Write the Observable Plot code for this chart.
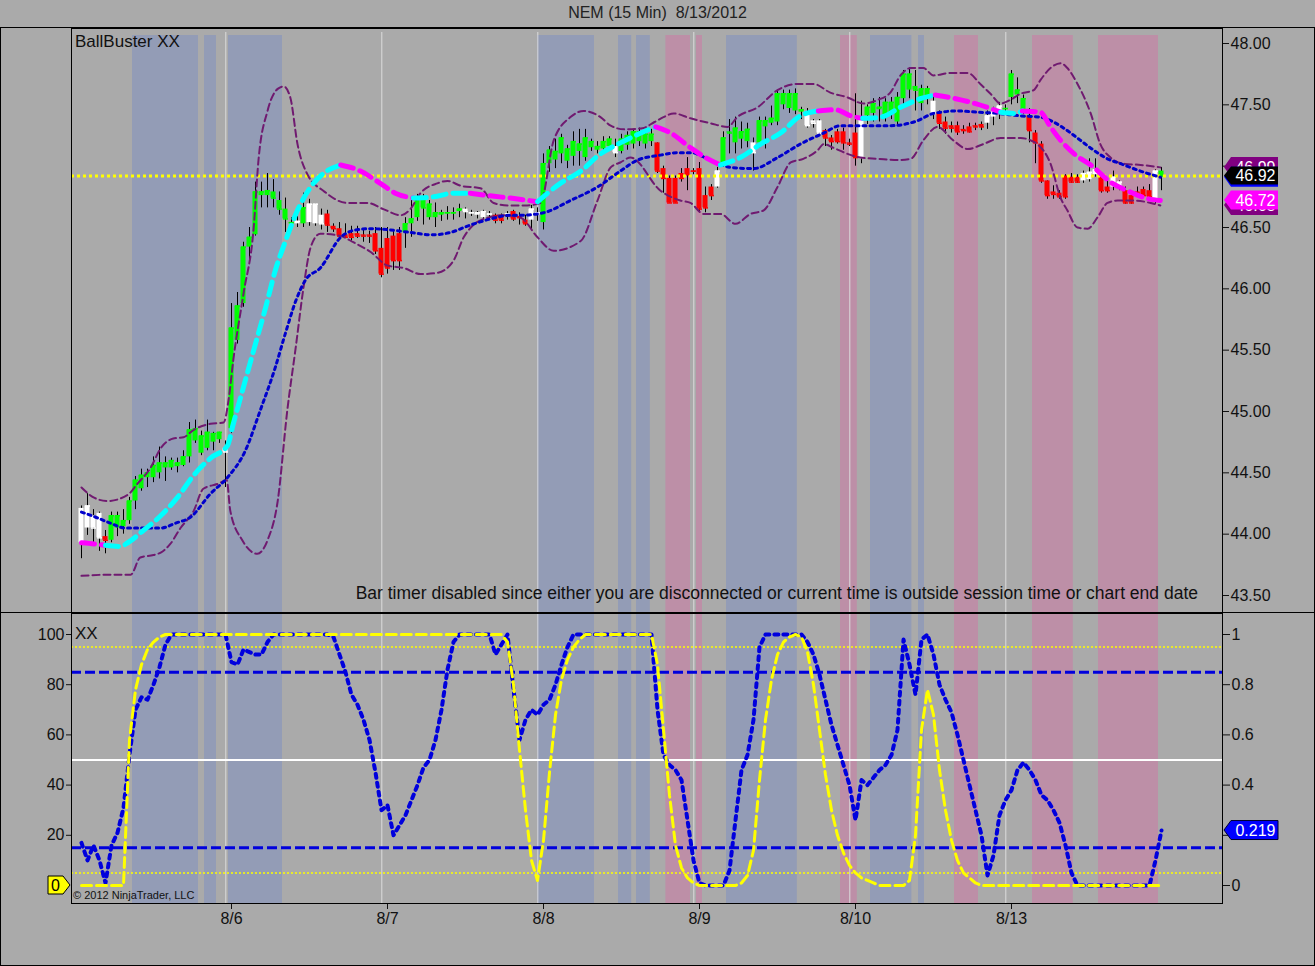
<!DOCTYPE html>
<html>
<head>
<meta charset="utf-8">
<script src="https://cdn.jsdelivr.net/npm/d3@7"></script>
<script src="https://cdn.jsdelivr.net/npm/@observablehq/plot@0.6"></script>
<style>
html,body{margin:0;padding:0;background:#aaaaaa;}
#wrap{position:relative;width:1315px;height:966px;background:#aaaaaa;overflow:hidden;font-family:"Liberation Sans",Arial,Helvetica,sans-serif;color:#111;}
#title{position:absolute;left:0;top:4px;width:1315px;text-align:center;font-size:16px;white-space:pre;color:#222;}
#price{position:absolute;left:0;top:28px;}
#ind{position:absolute;left:0;top:613px;}
#box{position:absolute;left:0;top:27px;width:1315px;height:939px;border:1px solid #000;box-sizing:border-box;pointer-events:none;}
#sep{position:absolute;left:0;top:612px;width:1315px;height:1px;background:#000;}
.lbl{position:absolute;white-space:nowrap;color:#111;}
svg{overflow:visible;}
</style>
</head>
<body>
<div id="wrap">
  <div id="title">NEM (15 Min)  8/13/2012</div>
  <div id="price"></div>
  <div id="ind"></div>
  <div id="sep"></div>
  <div id="box"></div>
  <div class="lbl" style="left:75px;top:32px;font-size:17px;">BallBuster XX</div>
  <div class="lbl" style="right:117px;top:583px;font-size:17.5px;">Bar timer disabled since either you are disconnected or current time is outside session time or chart end date</div>
  <div class="lbl" style="left:75px;top:624px;font-size:17px;">XX</div>
  <div class="lbl" style="left:73px;top:889px;font-size:11px;">© 2012 NinjaTrader, LLC</div>
</div>
<script>
// ---------- axis / session data ----------
const dayLabels = ["8/6", "8/7", "8/8", "8/9", "8/10", "8/13"];
const dayStart = [25, 51, 77, 103, 129, 155];          // bar index of first bar of each session
const sessionBreaks = [24.05, 50.05, 76.05, 102.05, 128.05, 154.05];
const priceTicks = [43.5, 44, 44.5, 45, 45.5, 46, 46.5, 47, 47.5, 48];
const indLeftTicks = [20, 40, 60, 80, 100];
const indRightTicks = [0, 20, 40, 60, 80, 100];
const currentPrice = 46.92;

// shaded regions in bar units
const blueBands = [[8.5,19.5],[20.5,22.5],[24.5,33.5],[76,85.5],[89.5,91.7],[92.5,94.8],[107.5,119.3],[131.5,138.4],[139.5,140.5]];
const pinkBands = [[97.4,101.5],[102.5,103.5],[126.5,129.3],[145.5,149.5],[158.5,165.3],[169.5,179.5]];

// ---------- candles (15-min bars, 8/3 .. 8/13) ----------
const candleOpen = [
44.21,44.05,44.15,44.17,43.98,43.95,44.05,44.06,44.11,44.27,44.37,44.46,44.46,44.50,44.54,44.54,44.55,44.56,44.63,44.76,44.66,44.70,44.75,44.77,44.70,
44.86,45.58,45.88,46.34,46.44,46.76,46.76,46.79,46.72,46.65,46.53,46.53,46.53,46.54,46.53,46.60,46.61,46.51,46.49,46.44,46.45,46.45,46.44,46.44,46.45,46.33,
46.41,46.43,46.45,46.46,46.53,46.58,46.72,46.58,46.58,46.60,46.61,46.61,46.63,46.65,46.61,46.60,46.58,46.60,46.60,46.60,46.60,46.63,46.59,46.56,46.56,46.60,
46.54,47.02,47.05,47.10,47.04,47.08,47.12,47.07,47.15,47.13,47.14,47.16,47.16,47.12,47.17,47.18,47.20,47.18,47.20,47.19,46.98,46.90,46.90,46.94,46.98,46.95,
46.98,46.76,46.83,46.83,47.02,47.28,47.19,47.22,47.20,47.19,47.19,47.32,47.35,47.36,47.50,47.47,47.45,47.44,47.44,47.37,47.37,47.29,47.23,47.28,47.28,47.19,
47.27,47.06,47.41,47.43,47.46,47.41,47.43,47.36,47.55,47.62,47.65,47.51,47.55,47.53,47.43,47.36,47.33,47.33,47.30,47.32,47.33,47.34,47.35,47.40,47.44,47.46,
47.56,47.58,47.45,47.41,47.27,47.18,46.88,46.79,46.78,46.92,46.91,46.91,46.88,46.89,46.93,46.92,46.83,46.83,46.82,46.80,46.76,46.79,46.81,46.80,46.72,46.96];
const candleHigh = [
44.23,44.33,44.20,44.18,44.03,44.18,44.18,44.20,44.30,44.47,44.53,44.53,44.63,44.71,44.63,44.62,44.62,44.68,44.91,44.93,44.84,44.93,44.83,44.83,44.76,
45.88,45.97,46.38,46.50,46.87,46.87,46.94,46.89,46.79,46.74,46.58,46.59,46.78,46.73,46.69,46.65,46.64,46.53,46.54,46.53,46.51,46.51,46.48,46.47,46.50,46.50,
46.50,46.48,46.50,46.58,46.73,46.77,46.77,46.72,46.70,46.64,46.67,46.66,46.69,46.66,46.64,46.63,46.64,46.63,46.61,46.61,46.63,46.64,46.62,46.60,46.68,46.66,
47.10,47.16,47.22,47.26,47.17,47.28,47.30,47.30,47.22,47.20,47.24,47.24,47.22,47.26,47.28,47.30,47.31,47.30,47.30,47.19,47.00,46.92,46.92,46.98,47.07,46.98,
47.03,46.83,46.85,46.99,47.28,47.38,47.40,47.36,47.35,47.23,47.40,47.40,47.49,47.62,47.62,47.62,47.63,47.48,47.47,47.38,47.38,47.30,47.25,47.30,47.31,47.22,
47.59,47.53,47.50,47.55,47.56,47.55,47.56,47.60,47.78,47.80,47.78,47.66,47.65,47.58,47.45,47.40,47.36,47.36,47.33,47.35,47.35,47.36,47.45,47.48,47.52,47.50,
47.78,47.72,47.58,47.47,47.29,47.20,46.88,46.84,46.80,46.93,46.94,46.93,46.96,47.06,47.06,46.94,46.88,46.96,46.88,46.83,46.80,46.83,46.83,46.85,46.97,46.99];
const candleLow = [
43.80,43.99,43.93,43.86,43.84,43.93,43.98,44.00,44.08,44.20,44.35,44.38,44.42,44.45,44.43,44.52,44.50,44.55,44.58,44.74,44.64,44.68,44.68,44.74,44.38,
44.82,45.55,45.85,46.20,46.43,46.66,46.66,46.66,46.60,46.46,46.47,46.50,46.50,46.51,46.51,46.48,46.46,46.46,46.43,46.41,46.39,46.41,46.38,46.37,46.28,46.09,
46.12,46.15,46.15,46.33,46.42,46.55,46.52,46.56,46.50,46.55,46.56,46.56,46.58,46.57,46.59,46.57,46.56,46.56,46.53,46.53,46.56,46.55,46.52,46.51,46.48,46.55,
46.48,46.95,46.98,47.02,46.98,47.00,47.00,47.04,47.12,47.10,47.10,47.12,47.07,47.10,47.13,47.14,47.16,47.14,47.16,46.94,46.78,46.70,46.70,46.87,46.80,46.93,
46.63,46.62,46.72,46.82,46.99,47.10,47.10,47.14,47.15,46.96,47.15,47.14,47.33,47.33,47.46,47.43,47.42,47.38,47.31,47.31,47.26,47.16,47.13,47.18,47.13,47.16,
47.00,47.02,47.34,47.36,47.36,47.36,47.38,47.33,47.50,47.55,47.45,47.45,47.50,47.38,47.30,47.26,47.27,47.25,47.26,47.27,47.29,47.29,47.30,47.33,47.38,47.42,
47.50,47.51,47.42,47.19,47.02,46.86,46.73,46.73,46.73,46.73,46.86,46.86,46.86,46.87,46.91,46.78,46.78,46.80,46.80,46.69,46.69,46.77,46.75,46.74,46.69,46.80];
const candleClose = [
43.93,44.23,44.05,43.97,43.95,44.15,44.15,44.11,44.27,44.44,44.48,44.50,44.56,44.58,44.58,44.60,44.58,44.63,44.85,44.86,44.80,44.83,44.82,44.83,44.67,
45.68,45.86,46.34,46.42,46.79,46.79,46.80,46.74,46.65,46.57,46.54,46.55,46.66,46.69,46.69,46.53,46.52,46.49,46.43,46.42,46.42,46.43,46.43,46.43,46.31,46.12,
46.17,46.23,46.23,46.53,46.57,46.74,46.66,46.69,46.62,46.62,46.62,46.62,46.65,46.63,46.62,46.62,46.63,46.61,46.56,46.56,46.61,46.57,46.58,46.53,46.65,46.62,
47.02,47.13,47.12,47.23,47.14,47.20,47.18,47.23,47.20,47.16,47.20,47.22,47.11,47.22,47.25,47.28,47.28,47.26,47.26,46.96,46.90,46.70,46.70,46.90,46.93,46.96,
46.65,46.66,46.76,46.96,47.23,47.27,47.31,47.28,47.30,47.11,47.37,47.37,47.39,47.59,47.59,47.59,47.59,47.46,47.33,47.35,47.27,47.23,47.20,47.20,47.19,47.18,
47.07,47.40,47.48,47.51,47.48,47.52,47.52,47.56,47.75,47.75,47.62,47.63,47.63,47.43,47.35,47.31,47.31,47.28,47.29,47.28,47.32,47.32,47.41,47.44,47.49,47.47,
47.75,47.62,47.55,47.29,47.19,46.88,46.76,46.77,46.75,46.75,46.87,46.87,46.94,46.95,46.97,46.80,46.80,46.91,46.87,46.70,46.70,46.78,46.76,46.75,46.96,46.92];
// candle colour state per bar: G = green, R = red, W = white
const candleState = [
"WWWWRGGGGGGGGGGGGGGGGGGGW",
"GGGGGGGGGGGWGWWWRRRRRRRRRR",
"RRRGGGGGGGGGGWWWWWRRWRRRWW",
"GGGGGGGGGGGGWGGGGGGRRRRRRR",
"RRRWGGGGGWGGGGGGGGWWWRRRRR",
"RWGGGGGGGGGGGWRRRRRRRRWWWG",
"GGGRRRRRRRRRWWWRRWWRRRRRWG"].join("");

// ---------- overlays (sampled at bar positions) ----------
const maIdx = [0,2.3,4,6.5,7.7,10.3,13.2,16,18.7,21.5,24.3,25.3,27,28.7,30.7,32.3,34,36,38.2,40.3,43.2,46.5,49.8,52.3,55.3,58.7,62,64.8,67.8,71.5,76,79.8,83.2,86.5,89.8,93.2,95.7,98.2,101.5,104,106.5,109.8,113.2,116.5,119.8,122.8,125.7,128.2,130.2,133.2,136.5,139.8,142.3,145.7,149,153.2,155.7,156.8,159.8,161.5,163.2,165.7,168.2,171.5,174.8,177.3,179.8];
const maVal = [43.93,43.92,43.91,43.90,43.93,44.03,44.15,44.30,44.48,44.62,44.72,44.90,45.20,45.50,45.85,46.15,46.39,46.64,46.83,46.94,47.01,46.96,46.86,46.78,46.74,46.75,46.78,46.78,46.76,46.74,46.71,46.86,46.96,47.10,47.19,47.27,47.32,47.27,47.15,47.07,47.01,47.07,47.18,47.27,47.41,47.45,47.46,47.41,47.39,47.40,47.48,47.55,47.58,47.55,47.51,47.44,47.43,47.45,47.44,47.32,47.21,47.09,47.01,46.87,46.79,46.74,46.72];
const maUp = [0,0,1,1,1,1,1,1,1,1,1,1,1,1,1,1,1,1,1,1,0,0,0,0,1,1,1,0,0,0,1,1,1,1,1,1,0,0,0,0,1,1,1,1,1,0,0,0,1,1,1,1,0,0,0,1,1,0,0,0,0,0,0,0,0,0,0];

const blueIdx = [0,2.3,4.8,7.3,9.8,13.2,15.7,18.2,21.5,24.3,27.3,29.8,32.3,34,35.7,37.3,39.8,43.2,45.7,48.2,51.5,54.8,58.2,61.5,64.8,68.2,71.5,73.2,77,81.5,86,89.8,92.7,96.5,99.3,101.5,104.8,108.2,112,116,119.8,123.7,126.5,130.3,134.8,139.3,142,146,149.3,152.7,156.5,159.8,162,164.3,166.5,168.7,171,173.2,176.5,179.8];
const blueVal = [44.18,44.14,44.09,44.05,44.05,44.05,44.09,44.14,44.33,44.46,44.68,45.01,45.36,45.64,45.90,46.07,46.17,46.42,46.48,46.49,46.48,46.46,46.44,46.46,46.52,46.57,46.60,46.60,46.62,46.72,46.83,46.96,47.05,47.09,47.11,47.11,47.05,46.99,46.98,47.07,47.18,47.27,47.33,47.33,47.33,47.37,47.43,47.45,47.44,47.43,47.41,47.40,47.36,47.29,47.21,47.13,47.06,47.02,46.96,46.91];

const upperIdx = [0,2,4.3,7.7,9.3,11.5,13.2,15.3,17,18.7,21.5,23.7,24.5,25.3,27,28.7,29.5,31,32.7,33.7,34.8,36,37.8,40.3,44.3,47.7,50.3,53.2,54.8,56.5,59.3,61,63.2,66.5,68.7,71,74.3,76.5,78.7,81.5,83.7,86.5,88.2,90.5,93.5,95.5,97,98.7,101.5,104.8,107.7,109.3,112.7,116,119.3,122,124.8,127.7,130.3,132.7,134.8,136.5,138.2,140.3,142,144.8,147.7,149.8,151.5,153.2,154.8,156.5,158.7,159.8,161.5,163.2,164.3,166,168.2,169.8,171.5,173.7,176.5,179.8];
const upperVal = [44.38,44.30,44.27,44.32,44.41,44.54,44.70,44.78,44.79,44.85,44.90,44.91,45.09,45.42,45.96,46.50,47.05,47.45,47.63,47.65,47.56,47.18,46.92,46.80,46.70,46.70,46.65,46.60,46.65,46.78,46.86,46.88,46.84,46.82,46.70,46.68,46.68,46.70,47.21,47.40,47.45,47.40,47.33,47.30,47.31,47.36,47.40,47.43,47.39,47.35,47.32,47.40,47.48,47.62,47.67,47.67,47.60,47.56,47.51,47.54,47.60,47.74,47.80,47.80,47.74,47.76,47.76,47.67,47.59,47.51,47.54,47.59,47.62,47.70,47.80,47.84,47.80,47.67,47.43,47.18,47.07,47.02,47.01,46.99];

const lowerIdx = [0,4.8,8.2,9.8,12,13.2,14.8,16.5,18.7,20.3,22.7,24.2,24.8,26.8,29.3,31,32.7,34.3,35.7,37,38.2,39.8,43.2,45.3,48.2,51,53.7,56.5,59.3,62,63.7,65.3,67.7,70.3,73.2,76,78.7,83.2,86,88.2,89.8,91.5,96.5,99.8,101.5,103.7,106.5,109,111.5,113.7,116,118.2,120.3,122.7,123.7,125.3,127.7,129.8,132.7,136,138.2,140.3,142.7,145.3,147.7,150.3,153.2,156.5,158.2,159.3,161.5,163.2,164.3,166,167.7,169.3,171,172.7,175.3,178.2,179.8];
const lowerVal = [43.66,43.67,43.67,43.81,43.83,43.85,43.92,44.05,44.19,44.37,44.41,44.44,44.19,43.95,43.84,43.95,44.27,45.01,45.52,46.01,46.34,46.45,46.43,46.38,46.30,46.19,46.17,46.12,46.13,46.23,46.42,46.52,46.58,46.60,46.58,46.42,46.31,46.39,46.72,46.99,47.03,47.07,46.80,46.72,46.70,46.61,46.61,46.53,46.61,46.64,46.83,47.03,47.06,47.13,47.18,47.15,47.10,47.07,47.06,47.05,47.06,47.21,47.32,47.21,47.14,47.18,47.23,47.23,47.21,47.18,47.02,46.74,46.64,46.50,46.49,46.58,46.70,46.72,46.72,46.70,46.68];

// ---------- indicator panel (per bar, 0..100) ----------
const oscBlue = [
17,10,16,10,1,16,21,31,52,70,75,74,80,87,96,
100,100,100,100,100,100,100,100,100,100,
89,88,94,93,92,92,97,
100,100,100,100,100,100,100,100,100,100,
99,92,85,76,72,66,58,45,30,32,20,24,28,34,40,47,50,58,70,86,97,
100,100,100,100,100,100,
92,96,100,78,58,66,70,68,72,74,80,88,95,
100,100,100,100,100,100,100,100,100,100,100,100,100,100,
70,52,48,46,42,26,10,1,
0,0,0,0,
6,26,46,52,66,95,
100,100,100,100,100,100,100,
97,92,84,74,64,56,48,40,26,42,40,43,46,48,52,62,98,88,76,98,100,92,80,74,69,60,50,40,30,20,4,12,28,34,38,46,49,46,42,36,34,30,25,16,5,
0,0,0,0,0,0,0,0,0,0,0,0,0,
10,21.9];
const oscYellow = [
0,0,0,0,0,0,0,0,
58,78,88,94,97,99,
100,100,100,100,100,100,100,100,100,100,100,100,100,100,100,100,100,100,100,100,100,100,100,100,100,100,100,100,100,100,100,100,100,100,100,100,100,100,100,100,100,100,100,100,100,100,100,100,100,100,100,100,100,100,100,100,100,
97,80,54,30,10,2,18,45,68,82,90,95,98,
100,100,100,100,100,100,100,100,100,100,100,100,
88,62,36,16,7,3,1,
0,0,0,0,0,0,0,
1,4,14,42,66,82,92,97,99,100,99,93,80,62,44,30,20,13,8,5,3,2,1,
0,0,0,0,0,
2,20,62,78,68,46,30,18,10,5,3,1,
0,0,0,0,0,0,0,0,0,0,0,0,0,0,0,0,0,0,0,0,0,0,0,0,0,0,0,0,0,0,0];
const indLevels = {yellow: [95, 5], blue: [85, 15], mid: [50]};

// ---------- build ----------
const FONT = '"Liberation Sans", Arial, Helvetica, sans-serif';
const stateColor = {G: "#00ff00", R: "#ff0000", W: "#ffffff"};
const xDomain = [-10 / 6, 1141 / 6];
const candles = candleOpen.map((o, i) => ({i, o, h: candleHigh[i], l: candleLow[i], c: candleClose[i], col: stateColor[candleState[i]]}));
const pts = (idx, val) => idx.map((x, k) => ({x, v: val[k]}));

// MA split into rising (cyan) / falling (magenta) pieces
const maPieces = [];
{
  let cur = null, g = 0;
  for (let k = 0; k < maIdx.length - 1; k++) {
    if (!cur || cur.up !== maUp[k]) { cur = {up: maUp[k], g: g++, pts: [{x: maIdx[k], v: maVal[k]}]}; maPieces.push(cur); }
    cur.pts.push({x: maIdx[k + 1], v: maVal[k + 1]});
  }
}
const maData = maPieces.flatMap(p => p.pts.map(d => ({...d, g: p.g, col: p.up ? "#00ffff" : "#ff00ff"})));

function flagMark(flags, side) {
  return (index, scales, values, dims) => {
    const g = d3.create("svg:g");
    const xr = dims.width - dims.marginRight, xl = dims.marginLeft;
    for (const f of flags) {
      const y = scales.y(f.value), h = f.half;
      let d, tx;
      if (side === "right") {
        const a = xr + 2, b = xr + 9, c = xr + 56;
        d = `M${a},${y}L${b},${y - h}L${c},${y - h}L${c},${y + h}L${b},${y + h}Z`;
        tx = (b + c) / 2 + 1;
      } else {
        const a = xl - 1, b = xl - 8, c = xl - 23;
        d = `M${a},${y}L${b},${y - h}L${c},${y - h}L${c},${y + h}L${b},${y + h}Z`;
        tx = (b + c) / 2;
      }
      g.append("path").attr("d", d).attr("fill", f.fill).attr("stroke", f.stroke || "none").attr("stroke-width", 1);
      if (f.text) {
        g.append("text").attr("x", tx).attr("y", y).attr("dy", "0.36em").attr("text-anchor", "middle")
          .attr("fill", f.color).attr("font-size", 16).attr("font-family", FONT).text(f.text);
      }
    }
    return g.node();
  };
}

const priceFlags = [
  {value: upperVal[upperVal.length - 1], fill: "#800080", color: "#fff", text: upperVal[upperVal.length - 1].toFixed(2), half: 10},
  {value: lowerVal[lowerVal.length - 1], fill: "#800080", color: "#fff", text: lowerVal[lowerVal.length - 1].toFixed(2), half: 10},
  {value: blueVal[blueVal.length - 1], fill: "#0000ff", half: 10},
  {value: maVal[maVal.length - 1], fill: "#ff00ff", color: "#fff", text: maVal[maVal.length - 1].toFixed(2), half: 9.5},
  {value: currentPrice, fill: "#000000", color: "#fff", text: currentPrice.toFixed(2), half: 9}
];

const common = {
  width: 1315, marginLeft: 71, marginRight: 93,
  style: {background: "transparent", fontFamily: FONT, fontSize: "16px", color: "#111", overflow: "visible"},
  color: {type: "identity"}
};

const price = Plot.plot({
  ...common,
  height: 585, marginTop: 0, marginBottom: 0,
  x: {domain: xDomain, axis: null},
  y: {domain: [43.5, 48], range: [567, 15]},
  marks: [
    Plot.rect(blueBands, {x1: d => d[0], x2: d => d[1], fill: "#939cb6", insetTop: 7}),
    Plot.rect(pinkBands, {x1: d => d[0], x2: d => d[1], fill: "#bd8fa7", insetTop: 7}),
    Plot.ruleX(sessionBreaks, {x: d => d, stroke: "#dcdcdc", strokeWidth: 1, insetTop: 4}),
    Plot.ruleX(candles, {x: "i", y1: "l", y2: "h", stroke: "#000", strokeWidth: 1}),
    Plot.rect(candles, {x1: d => d.i - 0.42, x2: d => d.i + 0.42, y1: "o", y2: "c", fill: "col"}),
    Plot.link(candles, {x1: d => d.i - 0.42, x2: d => d.i + 0.42, y1: "c", y2: "c", stroke: "col", strokeWidth: 1.5}),
    Plot.ruleY([currentPrice], {stroke: "#ffff00", strokeWidth: 3, strokeDasharray: "3,3"}),
    Plot.line(pts(upperIdx, upperVal), {x: "x", y: "v", curve: "monotone-x", stroke: "#701a70", strokeWidth: 2, strokeDasharray: "7,4"}),
    Plot.line(pts(lowerIdx, lowerVal), {x: "x", y: "v", curve: "monotone-x", stroke: "#701a70", strokeWidth: 2, strokeDasharray: "7,4"}),
    Plot.line(pts(blueIdx, blueVal), {x: "x", y: "v", curve: "monotone-x", stroke: "#0000cc", strokeWidth: 3, strokeDasharray: "3,4"}),
    Plot.line(maData, {x: "x", y: "v", z: "g", stroke: "col", curve: "monotone-x", strokeWidth: 5, strokeDasharray: "13,7"}),
    Plot.axisY({anchor: "right", ticks: priceTicks, tickFormat: d => d.toFixed(2), tickSize: 6, tickPadding: 2, label: null, fontSize: 16}),
    Plot.frame({stroke: "#000"}),
    flagMark(priceFlags, "right")
  ]
});
document.getElementById("price").appendChild(price);

const blueSeries = oscBlue.map((v, i) => ({i, v}));
const yellowSeries = oscYellow.map((v, i) => ({i, v}));
const lastBlue = oscBlue[oscBlue.length - 1], lastYellow = oscYellow[oscYellow.length - 1];

const ind = Plot.plot({
  ...common,
  height: 353, marginTop: 0, marginBottom: 63,
  x: {domain: xDomain},
  y: {domain: [0, 100], range: [272, 21]},
  marks: [
    Plot.rect(blueBands, {x1: d => d[0], x2: d => d[1], fill: "#939cb6"}),
    Plot.rect(pinkBands, {x1: d => d[0], x2: d => d[1], fill: "#bd8fa7"}),
    Plot.ruleX(sessionBreaks, {x: d => d, stroke: "#dcdcdc", strokeWidth: 1}),
    Plot.ruleY(indLevels.yellow, {stroke: "#ffff00", strokeWidth: 1.5, strokeDasharray: "2,2"}),
    Plot.ruleY(indLevels.blue, {stroke: "#0000dd", strokeWidth: 3, strokeDasharray: "10,4"}),
    Plot.ruleY(indLevels.mid, {stroke: "#ffffff", strokeWidth: 2}),
    Plot.line(blueSeries, {x: "i", y: "v", stroke: "#0000dd", strokeWidth: 4, strokeDasharray: "4,5"}),
    Plot.line(yellowSeries, {x: "i", y: "v", stroke: "#ffff00", strokeWidth: 3, strokeDasharray: "10,5"}),
    Plot.axisY({anchor: "left", ticks: indLeftTicks, tickSize: 5, tickPadding: 2, label: null, fontSize: 16}),
    Plot.axisY({anchor: "right", ticks: indRightTicks, tickFormat: d => String(d / 100), tickSize: 7, tickPadding: 2, label: null, fontSize: 16}),
    Plot.axisX({ticks: dayStart, tickFormat: d => dayLabels[dayStart.indexOf(d)], tickSize: 6, tickPadding: 3, label: null, fontSize: 16}),
    Plot.frame({stroke: "#000"}),
    flagMark([{value: lastBlue, fill: "#0000ff", stroke: "#000033", color: "#fff", text: (lastBlue / 100).toFixed(3), half: 9.5}], "right"),
    flagMark([{value: lastYellow, fill: "#ffff00", stroke: "#000", color: "#000", text: String(lastYellow), half: 9}], "left")
  ]
});
document.getElementById("ind").appendChild(ind);
</script>
</body>
</html>
